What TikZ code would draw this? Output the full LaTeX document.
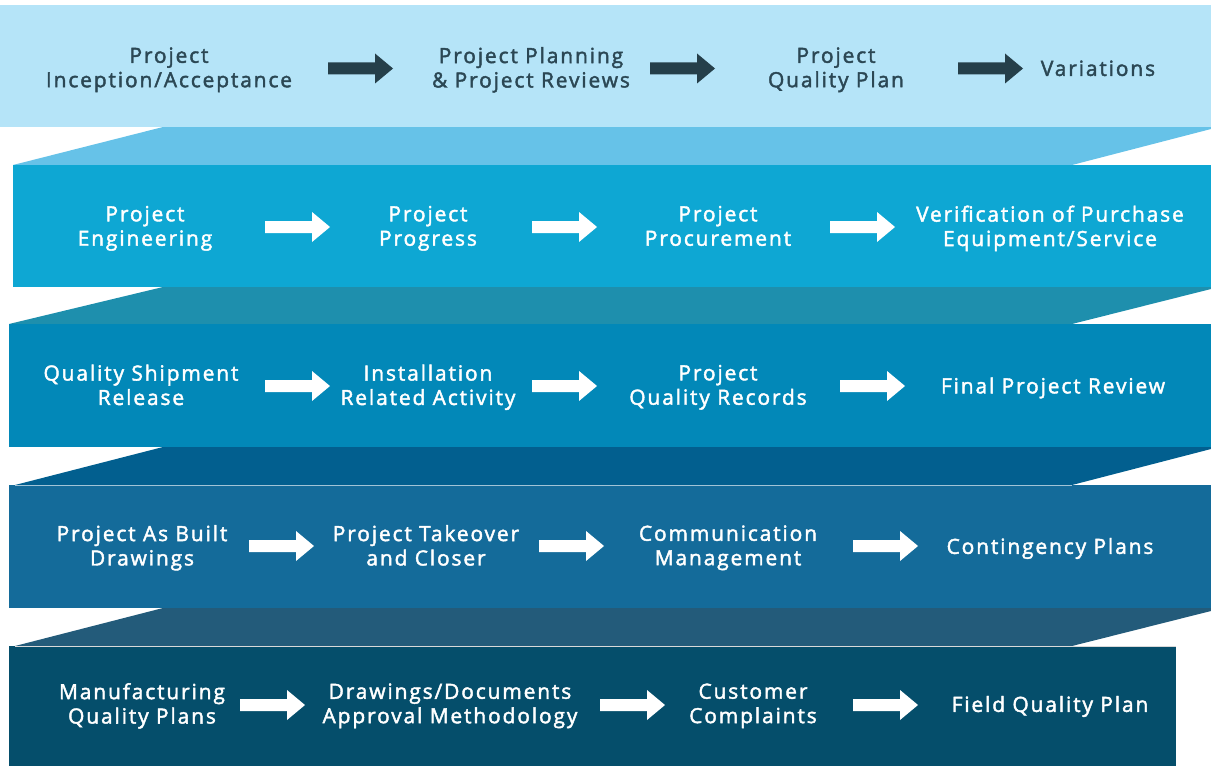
\documentclass[tikz,border=0pt]{standalone}
\usepackage{fontspec}
\setmainfont{Open Sans}[LetterSpace=9,FakeBold=2]
\definecolor{bandA}{HTML}{B5E4F8}
\definecolor{foldA}{HTML}{66C2E8}
\definecolor{bandB}{HTML}{0EA7D3}
\definecolor{foldB}{HTML}{1E8FAD}
\definecolor{bandC}{HTML}{0288B8}
\definecolor{foldC}{HTML}{025F8F}
\definecolor{bandD}{HTML}{146B9A}
\definecolor{foldD}{HTML}{235B7A}
\definecolor{bandE}{HTML}{054E6B}
\definecolor{darktxt}{HTML}{2B4754}
\definecolor{darkarrow}{HTML}{253F4A}
\newcommand{\blockarrow}[2]{%
  \fill[#2] ($(#1)+(0,-6)$) -- ++(47,0) -- ++(0,-9) -- ($(#1)+(65,0)$) -- ($(#1)+(47,15)$) -- ++(0,-9) -- ($(#1)+(0,6)$) -- cycle;}
\usetikzlibrary{calc}
\begin{document}
\begin{tikzpicture}[x=1bp,y=-1bp,
  lbl/.style={align=center,font=\fontsize{21}{24.5}\selectfont,inner sep=0pt,
    execute at begin node=\strut, execute at end node=\strut},
  dlbl/.style={lbl,text=darktxt},
  wlbl/.style={lbl,text=white}]
\useasboundingbox (0,0) rectangle (1211,766);
% bands
\fill[bandA] (0,5) rectangle (1211,127);
\fill[foldA] (163,127) -- (1211,127) -- (1211,129) -- (1072,165) -- (13,165) -- cycle;
\fill[bandB] (13,165) rectangle (1211,287);
\fill[foldB] (163,287) -- (1211,287) -- (1211,289) -- (1072,324) -- (9,324) -- cycle;
\fill[bandC] (9,324) rectangle (1211,447);
\fill[foldC] (163,447) -- (1211,447) -- (1211,449) -- (1072,485) -- (15,485) -- cycle;
\fill[bandD] (9,485) rectangle (1211,608);
\draw[white!60!bandD,line width=1bp] (15,485.5) -- (1072,485.5);
\fill[foldD] (163,608) -- (1211,608) -- (1211,611) -- (1072,646) -- (15,646) -- cycle;
\fill[bandE] (9,646) rectangle (1176,766);
\draw[white!70!gray,line width=1bp] (15,646.5) -- (1176,646.5);
% row 1
\node[dlbl] (a1) at (169,71) {Project\\Inception/Acceptance};
\node[dlbl] (a2) at (531,71) {Project Planning\\\& Project Reviews};
\node[dlbl] (a3) at (836,71) {Project\\Quality Plan};
\node[dlbl] (a4) at (1098,71) {Variations};
\coordinate (ar1) at (328,68.5);
\coordinate (ar2) at (650,68.5);
\coordinate (ar3) at (958,68.5);
\blockarrow{ar1}{darkarrow}
\blockarrow{ar2}{darkarrow}
\blockarrow{ar3}{darkarrow}
% row 2
\node[wlbl] (b1) at (145,229.5) {Project\\Engineering};
\node[wlbl] (b2) at (428,229.5) {Project\\Progress};
\node[wlbl] (b3) at (718,229.5) {Project\\Procurement};
\node[wlbl] (b4) at (1050,229.5) {Verification of Purchase\\Equipment/Service};
\coordinate (br1) at (265,227);
\coordinate (br2) at (532,227);
\coordinate (br3) at (830,227);
\blockarrow{br1}{white}
\blockarrow{br2}{white}
\blockarrow{br3}{white}
% row 3
\node[wlbl] (c1) at (141,388.5) {Quality Shipment\\Release};
\node[wlbl] (c2) at (428,388.5) {Installation\\Related Activity};
\node[wlbl] (c3) at (718,388.5) {Project\\Quality Records};
\node[wlbl] (c4) at (1053,388.5) {Final Project Review};
\coordinate (cr1) at (265,386);
\coordinate (cr2) at (532,386);
\coordinate (cr3) at (840,386);
\blockarrow{cr1}{white}
\blockarrow{cr2}{white}
\blockarrow{cr3}{white}
% row 4
\node[wlbl] (d1) at (142,549) {Project As Built\\Drawings};
\node[wlbl] (d2) at (426,549) {Project Takeover\\and Closer};
\node[wlbl] (d3) at (728,549) {Communication\\Management};
\node[wlbl] (d4) at (1050,549) {Contingency Plans};
\coordinate (dr1) at (249,546);
\coordinate (dr2) at (539,546);
\coordinate (dr3) at (853,546);
\blockarrow{dr1}{white}
\blockarrow{dr2}{white}
\blockarrow{dr3}{white}
% row 5
\node[wlbl] (e1) at (142,707) {Manufacturing\\Quality Plans};
\node[wlbl] (e2) at (450,707) {Drawings/Documents\\Approval Methodology};
\node[wlbl] (e3) at (753,707) {Customer\\Complaints};
\node[wlbl] (e4) at (1050,707) {Field Quality Plan};
\coordinate (er1) at (240,705);
\coordinate (er2) at (600,705);
\coordinate (er3) at (853,705);
\blockarrow{er1}{white}
\blockarrow{er2}{white}
\blockarrow{er3}{white}
\end{tikzpicture}
\end{document}
